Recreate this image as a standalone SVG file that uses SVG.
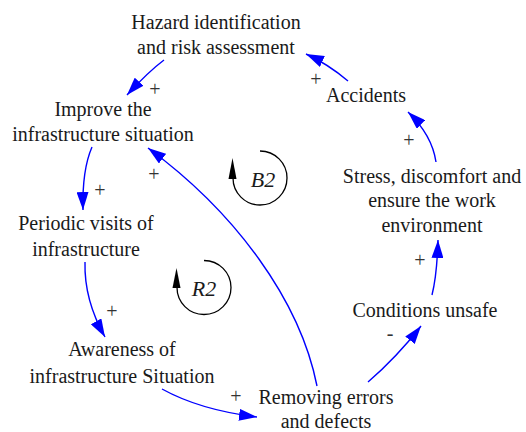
<svg xmlns="http://www.w3.org/2000/svg" width="526" height="432" viewBox="0 0 526 432" font-family="'Liberation Serif', Tinos, 'Times New Roman', serif">
  <defs>
    <marker id="arrow" markerUnits="userSpaceOnUse" markerWidth="18" markerHeight="12" refX="18" refY="6" orient="auto">
      <path d="M0,0 L18,6 L0,12 z" fill="#0000ff"/>
    </marker>
  </defs>
  <style>
    text { font-family: 'Liberation Serif', Tinos, 'Times New Roman', serif; font-size: 20px; fill: #1a1a1a; }
    .node text { text-anchor: middle; }
    .sign { text-anchor: middle; fill: #333333; }
    .loop text { font-style: italic; font-size: 22px; text-anchor: middle; }
    .link { fill: none; stroke: #0000ff; stroke-width: 1.4; marker-end: url(#arrow); }
    .loop path.arc { fill: none; stroke: #000000; stroke-width: 1.3; }
  </style>
  <rect width="526" height="432" fill="#ffffff"/>

  <!-- variables -->
  <g id="hazard" class="node">
    <text x="216" y="29">Hazard identification</text>
    <text x="216" y="54">and risk assessment</text>
  </g>
  <g id="improve" class="node">
    <text x="103" y="116">Improve the</text>
    <text x="103" y="141">infrastructure situation</text>
  </g>
  <g id="accidents" class="node">
    <text x="366" y="102">Accidents</text>
  </g>
  <g id="periodic" class="node">
    <text x="86" y="230">Periodic visits of</text>
    <text x="86" y="256">infrastructure</text>
  </g>
  <g id="stress" class="node">
    <text x="432" y="183">Stress, discomfort and</text>
    <text x="432" y="207">ensure the work</text>
    <text x="432" y="232">environment</text>
  </g>
  <g id="conditions" class="node">
    <text x="425" y="317">Conditions unsafe</text>
  </g>
  <g id="awareness" class="node">
    <text x="122" y="356">Awareness of</text>
    <text x="122" y="383">infrastructure Situation</text>
  </g>
  <g id="removing" class="node">
    <text x="326" y="404">Removing errors</text>
    <text x="326" y="428">and defects</text>
  </g>

  <!-- causal links -->
  <g id="links">
    <path class="link" d="M164,60 Q148,72 127,95"/>
    <path class="link" d="M348,81 Q328,64 306,54"/>
    <path class="link" d="M436,162 Q432,135 408,112"/>
    <path class="link" d="M432,295 Q437,275 438,240"/>
    <path class="link" d="M368,382 Q397,357 421,326"/>
    <path class="link" d="M162,389 Q200,410 257,417"/>
    <path class="link" d="M92,147 Q82,170 83,210"/>
    <path class="link" d="M85,262 Q84,300 105,337"/>
    <path class="link" d="M317,386 C300,300 235,212 148,148"/>
  </g>

  <!-- link polarities -->
  <g id="polarities">
    <text class="sign" x="155" y="96">+</text>
    <text class="sign" x="316" y="86">+</text>
    <text class="sign" x="409" y="147">+</text>
    <text class="sign" x="420" y="267">+</text>
    <text class="sign" x="390" y="340">-</text>
    <text class="sign" x="100" y="197">+</text>
    <text class="sign" x="154" y="181">+</text>
    <text class="sign" x="112" y="318">+</text>
    <text class="sign" x="236" y="403">+</text>
  </g>

  <!-- loop identifiers -->
  <g id="loop-b2" class="loop">
    <path class="arc" d="M260,151 A27,27 0 1 1 233,178"/>
    <path d="M232.5,158 L228.5,179 L236.5,179 z" fill="#000000"/>
    <text x="263" y="187">B2</text>
  </g>
  <g id="loop-r2" class="loop">
    <path class="arc" d="M204,260.5 A27,27 0 1 1 177,287.5"/>
    <path d="M176.5,268 L172.5,288 L180.5,288 z" fill="#000000"/>
    <text x="204" y="296">R2</text>
  </g>
</svg>
